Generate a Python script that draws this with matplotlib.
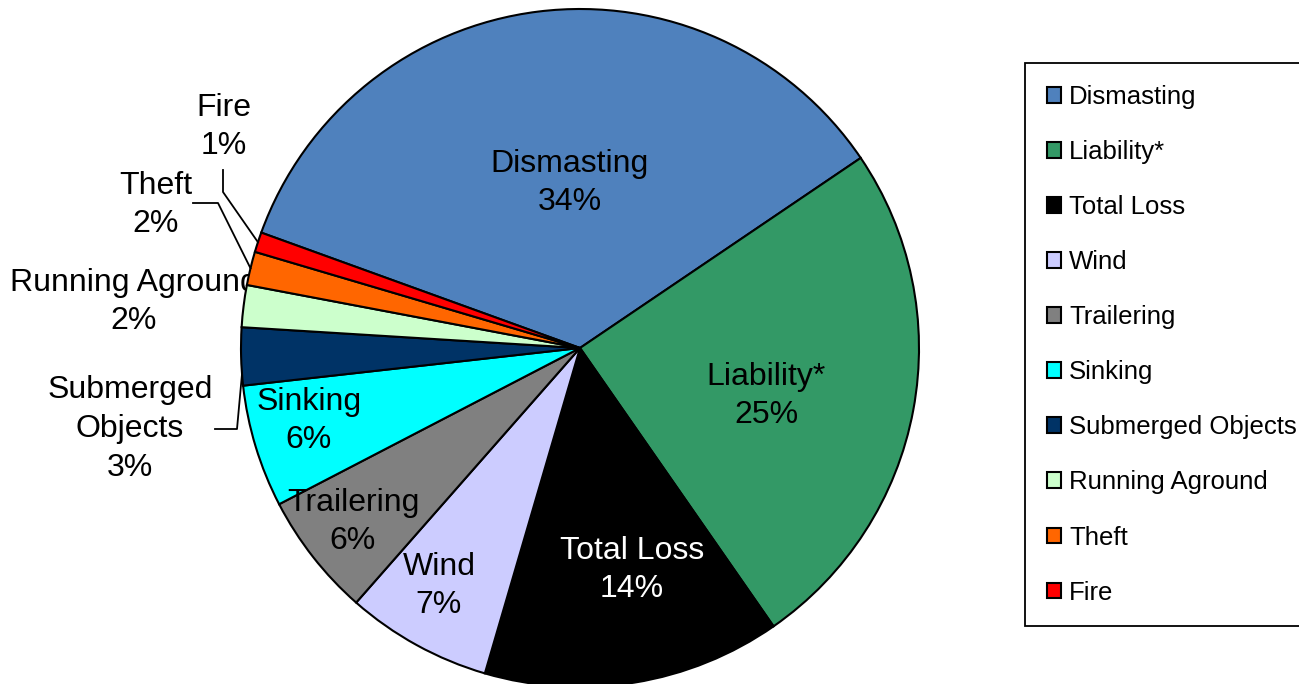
import numpy as np
import matplotlib
matplotlib.use('Agg')
from matplotlib import pyplot as plt

plt.rcParams['font.family'] = ['Liberation Sans', 'DejaVu Sans']

# claim categories, clockwise from the top-left
categories = ['Dismasting', 'Liability*', 'Total Loss', 'Wind', 'Trailering',
              'Sinking', 'Submerged Objects', 'Running Aground', 'Theft', 'Fire']
# shares (percent)
shares = [35.0, 24.8, 14.2, 6.95, 5.9, 5.85, 2.75, 2.0, 1.6, 0.95]
# percentages as printed on the chart
pct_labels = [34, 25, 14, 7, 6, 6, 3, 2, 2, 1]
label_names = ['Dismasting', 'Liability*', 'Total Loss', 'Wind', 'Trailering',
               'Sinking', 'Submerged\nObjects', 'Running Aground', 'Theft', 'Fire']
colors = ['#4F81BD', '#339966', '#000000', '#CCCCFF', '#808080',
          '#00FFFF', '#003366', '#CCFFCC', '#FF6600', '#FF0000']

W, H = 1299, 684
fig = plt.figure(figsize=(W / 100, H / 100), dpi=100)
ax = fig.add_axes([0, 0, 1, 1])

cx, cy, R = 580, H - 348, 339
wedges, _ = ax.pie(shares, colors=colors, startangle=160.1, counterclock=False,
                   center=(cx, cy), radius=R,
                   wedgeprops=dict(edgecolor='black', linewidth=1.5))
ax.set_xlim(0, W)
ax.set_ylim(0, H)
ax.set_aspect('equal')
ax.axis('off')

# label block centres in image pixels (x, y from top)
label_pos = [(570, 183), (766, 396), (632, 570), (439, 586), (353, 522),
             (309, 421), (130, 429), (134, 302), (156, 205), (224, 127)]
text_colors = ['black', 'black', 'white'] + ['black'] * 7
for i, (name, pct, (x, y), tc) in enumerate(zip(label_names, pct_labels, label_pos, text_colors)):
    # outside labels sit under the pie (the pie edge clips "Aground")
    z = 3 if i < 6 else 0.5
    ax.text(x, H - y, '%s\n%d%%' % (name, pct), ha='center', va='center',
            fontsize=23, color=tc, linespacing=1.38, zorder=z)

# leader lines for the small outside labels
def arc_point(w, frac=0.5, r=R):
    lo, hi = sorted((w.theta1, w.theta2))
    a = np.deg2rad(lo + frac * (hi - lo))
    return cx + r * np.cos(a), cy + r * np.sin(a)

idx = categories.index
fx, fy = arc_point(wedges[idx('Fire')])
ax.plot([223, 223, fx], [H - 170, H - 192, fy], color='black', lw=1.3)
tx, ty = arc_point(wedges[idx('Theft')])
ax.plot([193, 218, tx], [H - 203, H - 203, ty], color='black', lw=1.3)
sx, sy = arc_point(wedges[idx('Submerged Objects')], 0.8)
ax.plot([215, 237, sx], [H - 429, H - 429, sy], color='black', lw=1.3)

leg = ax.legend(wedges, categories, loc='upper left',
                bbox_to_anchor=(1025 / W, 1 - 63 / H), bbox_transform=fig.transFigure,
                borderaxespad=0, frameon=True, fancybox=False, edgecolor='black',
                framealpha=1, fontsize=18.5, handlelength=0.57, handleheight=0.57,
                handletextpad=0.3, labelspacing=1.21, borderpad=0.85)
leg.get_frame().set_linewidth(1.3)

plt.savefig('out.png', dpi=100)
